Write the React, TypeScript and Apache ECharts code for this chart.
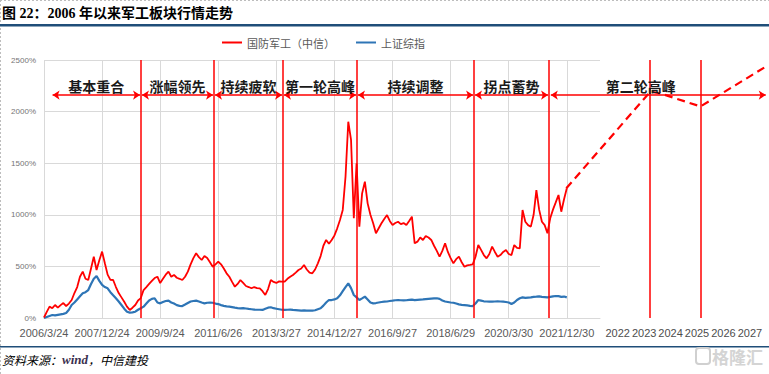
import React, { useEffect, useRef } from 'react';
import * as echarts from 'echarts';

// Month index 0 = 2006/3, one value per month up to 2021/12 (index 189)
const xTickLabels = ['2006/3/24', '2007/12/24', '2009/9/24', '2011/6/26', '2013/3/27', '2014/12/27', '2016/9/27', '2018/6/29', '2020/3/30', '2021/12/30'];
const monthsPerTick = 21;
const futureYears = [2022, 2023, 2024, 2025, 2026, 2027];

const defenseValues = [
  5, 60, 110, 95, 126, 100, 125, 145, 116, 140,
  174, 242, 300, 400, 449, 380, 368, 480, 594, 465,
  560, 643, 530, 420, 370, 368, 300, 242, 200, 158,
  110, 78, 100, 126, 170, 193, 271, 300, 330, 360,
  387, 400, 339, 380, 420, 449, 400, 417, 390, 380,
  368, 400, 449, 520, 580, 627, 590, 562, 600, 581,
  540, 497, 520, 546, 520, 480, 433, 400, 350, 303,
  330, 368, 340, 310, 300, 288, 300, 290, 288, 260,
  223, 280, 368, 350, 340, 355, 352, 352, 380, 400,
  417, 440, 465, 480, 514, 470, 440, 433, 470, 530,
  600, 700, 756, 720, 756, 800, 869, 950, 1047, 1369,
  1902, 1725, 966, 1499, 885, 1208, 1321, 1111, 1000, 918,
  821, 870, 918, 960, 998, 940, 901, 920, 933, 910,
  920, 901, 940, 982, 724, 740, 780, 756, 794, 780,
  756, 700, 650, 594, 650, 724, 640, 580, 530, 570,
  594, 540, 497, 510, 514, 520, 594, 707, 660, 610,
  578, 620, 691, 640, 594, 610, 640, 659, 620, 610,
  707, 680, 675, 1047, 933, 900, 885, 1000, 1240, 1050,
  933, 900, 821, 966, 1050, 1120, 1192, 1030, 1150, 1257,
];

const shanghaiValues = [
  0, 10, 20, 29, 25, 30, 35, 40, 48, 80,
  126, 150, 180, 210, 239, 250, 271, 330, 380, 407,
  360, 320, 300, 288, 250, 220, 191, 160, 126, 90,
  60, 52, 55, 61, 80, 95, 110, 140, 170, 185,
  191, 150, 142, 155, 165, 168, 150, 140, 125, 118,
  116, 130, 145, 160, 165, 168, 160, 150, 142, 148,
  150, 148, 140, 135, 125, 118, 112, 110, 105, 100,
  96, 94, 95, 92, 88, 85, 82, 80, 80, 78,
  90, 100, 104, 95, 90, 85, 80, 78, 80, 82,
  78, 76, 74, 72, 73, 71, 72, 71, 75, 85,
  94, 120, 150, 174, 174, 180, 191, 220, 260, 300,
  336, 290, 223, 200, 174, 190, 207, 180, 150, 142,
  145, 150, 155, 158, 160, 165, 168, 172, 174, 172,
  170, 172, 175, 178, 174, 176, 178, 180, 183, 186,
  188, 190, 191, 185, 170, 160, 155, 150, 148, 140,
  132, 128, 125, 122, 118, 116, 140, 174, 168, 162,
  160, 158, 158, 160, 162, 160, 158, 155, 150, 136,
  150, 175, 191, 200, 195, 198, 200, 205, 207, 210,
  205, 203, 200, 205, 210, 213, 212, 205, 208, 200,
];

// forecast dashed path on the second (year) axis
const forecastYears = [2020.056, 2023.23, 2023.6, 2025.13, 2027.6];
const forecastValues = [1257, 2193, 2177, 2050, 2435];

const phaseNames = ['基本重合', '涨幅领先', '持续疲软', '第一轮高峰', '持续调整', '拐点蓄势'];
const phaseBounds = [3.1, 35.07, 61.46, 86.4, 113.16, 155.46, 182.57];
const secondPeakName = '第二轮高峰';
const secondPeakSpan = [2019.47, 2027.6];
const secondPeakLabelAt = [2022.87, 2250];
const futureMarkers = [2023.23, 2025.13];
const arrowLevel = 2160;

const RED = '#FF0000';
const BLUE = '#2E75B6';
const GRID = '#D9D9D9';

export default function App() {
  const ref = useRef<HTMLDivElement>(null);

  useEffect(() => {
    document.body.style.margin = '0';
    if (!ref.current) return;
    const chart = echarts.init(ref.current, undefined, { renderer: 'svg' });

    const gap = 0.35;
    const arrowData: any[] = phaseNames.map((name, i) => [
      { coord: [phaseBounds[i] + (i === 0 ? 0 : gap), arrowLevel], name },
      { coord: [phaseBounds[i + 1] - gap, arrowLevel] },
    ]);
    const verticalData = phaseBounds.slice(1).map((v) => ({ xAxis: v }));

    const phaseLabelStyle = {
      fontSize: 14,
      fontWeight: 'bold',
      color: '#1a1a1a',
      fontFamily: '"Noto Sans CJK SC", sans-serif',
    };

    const option: any = {
      animation: false,
      legend: {
        left: 217,
        top: 32,
        icon: 'rect',
        itemWidth: 20,
        itemHeight: 2,
        itemGap: 21,
        data: ['国防军工（中信）', '上证综指'],
        textStyle: { fontSize: 11, color: '#595959', fontFamily: '"Noto Sans CJK SC", sans-serif' },
      },
      grid: [
        { left: 44, top: 60, width: 556, height: 258 },
        { left: 538.4, top: 60, width: 230.6, height: 258 },
      ],
      xAxis: [
        {
          type: 'value',
          gridIndex: 0,
          min: 0,
          max: 201,
          interval: monthsPerTick,
          axisLine: { show: true, lineStyle: { color: GRID, width: 1 } },
          axisTick: { show: false },
          splitLine: { show: true, showMaxLine: false, lineStyle: { color: GRID, width: 1 } },
          axisLabel: {
            margin: 9,
            fontSize: 11,
            color: '#595959',
            fontFamily: '"Liberation Sans", Arial, sans-serif',
            showMaxLabel: false,
            formatter: (v: number) => {
              const k = Math.round(v / monthsPerTick);
              return Math.abs(v - k * monthsPerTick) < 1e-6 && k < xTickLabels.length ? xTickLabels[k] : '';
            },
          },
        },
        {
          type: 'value',
          gridIndex: 1,
          min: 2019,
          max: 2027.61,
          interval: 1,
          axisLine: { show: false },
          axisTick: { show: false },
          splitLine: { show: false },
          axisLabel: {
            margin: 9,
            fontSize: 11,
            color: '#4d4d4d',
            fontFamily: '"Liberation Sans", Arial, sans-serif',
            formatter: (v: number) => (futureYears.includes(v) ? String(v) : ''),
          },
        },
      ],
      yAxis: [
        {
          type: 'value',
          gridIndex: 0,
          min: 0,
          max: 2500,
          interval: 500,
          axisLine: { show: false },
          axisTick: { show: false },
          splitLine: { show: true, lineStyle: { color: GRID, width: 1 } },
          axisLabel: {
            margin: 8,
            fontSize: 8,
            color: '#757575',
            fontFamily: '"Liberation Sans", Arial, sans-serif',
            formatter: (v: number) => `${v}%`,
          },
        },
        { type: 'value', gridIndex: 1, min: 0, max: 2500, show: false },
      ],
      series: [
        {
          name: '上证综指',
          type: 'line',
          xAxisIndex: 0,
          yAxisIndex: 0,
          data: shanghaiValues.map((v, i) => [i, v]),
          showSymbol: false,
          lineStyle: { color: BLUE, width: 2.2 },
          itemStyle: { color: BLUE },
          z: 2,
          markLine: {
            silent: true,
            symbol: ['none', 'none'],
            label: { show: false },
            lineStyle: { color: RED, width: 1.5, type: 'solid' },
            data: verticalData,
          },
        },
        {
          name: '国防军工（中信）',
          type: 'line',
          xAxisIndex: 0,
          yAxisIndex: 0,
          data: defenseValues.map((v, i) => [i, v]),
          showSymbol: false,
          lineStyle: { color: RED, width: 1.8 },
          itemStyle: { color: RED },
          z: 3,
          markLine: {
            silent: true,
            symbol: ['arrow', 'arrow'],
            symbolSize: 7,
            lineStyle: { color: RED, width: 1.5, type: 'solid' },
            label: {
              show: true,
              position: 'insideMiddleTop',
              distance: 2,
              formatter: '{b}',
              ...phaseLabelStyle,
            },
            data: arrowData,
          },
        },
        {
          name: '预测',
          type: 'line',
          xAxisIndex: 1,
          yAxisIndex: 1,
          data: forecastYears.map((x, i) => [x, forecastValues[i]]),
          showSymbol: false,
          lineStyle: { color: RED, width: 2.2, type: [8, 5] },
          itemStyle: { color: RED },
          z: 3,
          markLine: {
            silent: true,
            symbol: ['none', 'none'],
            lineStyle: { color: RED, width: 1.5, type: 'solid' },
            label: { show: false },
            data: [
              ...futureMarkers.map((v) => ({ xAxis: v })),
              [
                { coord: [secondPeakSpan[0], arrowLevel], symbol: 'arrow', symbolSize: 7 },
                { coord: [secondPeakSpan[1], arrowLevel], symbol: 'arrow', symbolSize: 7 },
              ],
            ],
          },
          markPoint: {
            silent: true,
            symbol: 'circle',
            symbolSize: 0,
            label: {
              show: true,
              position: 'inside',
              formatter: secondPeakName,
              ...phaseLabelStyle,
            },
            data: [{ coord: secondPeakLabelAt }],
          },
        },
      ],
      graphic: [
        {
          type: 'line',
          shape: { x1: 0.5, y1: 0, x2: 0.5, y2: 374 },
          style: { stroke: '#bdbdbd', lineWidth: 1, lineDash: [2, 2] },
          silent: true,
        },
        {
          type: 'line',
          shape: { x1: 0, y1: 0.5, x2: 769, y2: 0.5 },
          style: { stroke: '#bdbdbd', lineWidth: 1, lineDash: [2, 2] },
          silent: true,
        },
        {
          type: 'text',
          x: 2,
          y: 13,
          style: {
            text: '图 22：2006 年以来军工板块行情走势',
            font: 'bold 14px "Liberation Serif", "Noto Sans CJK SC", serif',
            fill: '#000',
            verticalAlign: 'middle',
          },
          silent: true,
        },
        {
          type: 'rect',
          shape: { x: 0, y: 24, width: 769, height: 2.5 },
          style: { fill: '#1F4E79' },
          silent: true,
        },
        {
          type: 'rect',
          shape: { x: 0, y: 346, width: 769, height: 1.5 },
          style: { fill: '#1F4E79' },
          silent: true,
        },
        {
          type: 'text',
          x: 2,
          y: 359,
          style: {
            text: '{a|资料来源：}{b|wind}{a|，中信建投}',
            verticalAlign: 'middle',
            rich: {
              a: { fontSize: 12, fontStyle: 'italic', fontFamily: '"Noto Sans CJK SC", sans-serif', fill: '#000' },
              b: { fontSize: 13, fontStyle: 'italic', fontWeight: 'bold', fontFamily: '"Liberation Serif", serif', fill: '#3b3050' },
            },
          },
          silent: true,
        },
        {
          type: 'rect',
          shape: { x: 696, y: 348, width: 14, height: 16, r: 3 },
          style: { fill: 'none', stroke: '#d0d0d0', lineWidth: 2 },
          silent: true,
        },
        {
          type: 'text',
          x: 712,
          y: 356,
          style: {
            text: '格隆汇',
            font: 'bold 17px "Noto Sans CJK SC", sans-serif',
            fill: '#d4d4d4',
            verticalAlign: 'middle',
          },
          silent: true,
        },
      ],
    };

    chart.setOption(option);
    return () => chart.dispose();
  }, []);

  return <div ref={ref} style={{ width: 769, height: 374 }} />;
}
